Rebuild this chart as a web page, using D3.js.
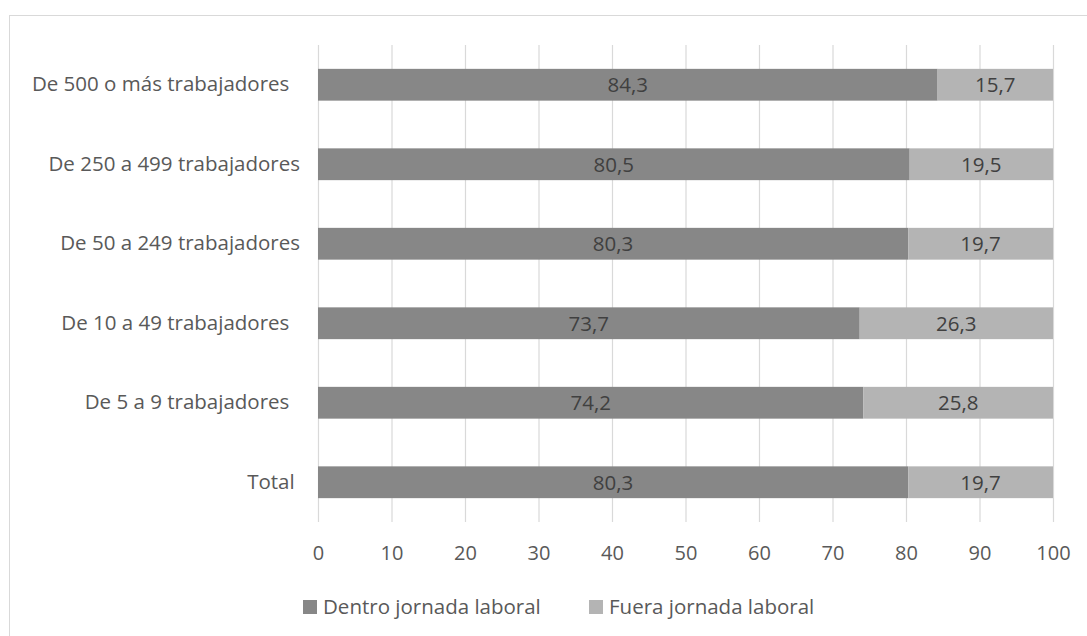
<!DOCTYPE html>
<html><head><meta charset="utf-8">
<script src="https://cdn.jsdelivr.net/npm/d3@7"></script>
<style>
body{margin:0;background:#fff;}
text{font-family:"Open Sans","Noto Sans",sans-serif;white-space:pre;}
</style></head>
<body><svg id="c" width="1087" height="636"></svg>
<script>
const categories = ["De 500 o más trabajadores  ","De 250 a 499 trabajadores","De 50 a 249 trabajadores","De 10 a 49 trabajadores  ","De 5 a 9 trabajadores  ","Total "];
const dentro = [84.3,80.5,80.3,73.7,74.2,80.3];
const fuera = [15.7,19.5,19.7,26.3,25.8,19.7];
const seriesNames = ["Dentro jornada laboral","Fuera jornada laboral"];
const xTicks = [0,10,20,30,40,50,60,70,80,90,100];

const svg = d3.select("#c");
const colors = ["#878787","#b4b4b4"];
const fmt = v => String(v).replace(".", ",");
const FS = 20.5;

svg.append("rect").attr("x",9.5).attr("y",15.5).attr("width",1100).attr("height",700)
  .attr("fill","#fff").attr("stroke","#d9d9d9");

const x = d3.scaleLinear().domain([0,100]).range([318,1053]);
const y = d3.scaleBand().domain(categories).range([45,522]).paddingInner(0.6).paddingOuter(0.3);

// gridlines
svg.append("g").selectAll("line").data(xTicks).join("line")
  .attr("x1",d=>x(d)+0.5).attr("x2",d=>x(d)+0.5).attr("y1",45).attr("y2",522)
  .attr("stroke","#d9d9d9").attr("stroke-width",1.2);

// axis labels
const xAxis = d3.axisBottom(x).tickValues(xTicks).tickSize(0).tickPadding(0);
const gx = svg.append("g").attr("transform","translate(0,560)").call(xAxis);
gx.select(".domain").remove();
gx.selectAll("text").attr("font-size",20).attr("fill","#595959").attr("dy",0)
  .style("font-family","'Open Sans','Noto Sans',sans-serif");

const yAxis = d3.axisLeft(y).tickSize(0).tickPadding(0);
const gy = svg.append("g").attr("transform","translate(300,0)").call(yAxis);
gy.select(".domain").remove();
gy.selectAll("text").attr("font-size",FS).attr("fill","#595959")
  .style("font-family","'Open Sans','Noto Sans',sans-serif");

const rows = categories.map((c,i)=>({c, d:dentro[i], f:fuera[i]}));
const g = svg.append("g");
g.selectAll("rect.d").data(rows).join("rect").attr("class","d")
  .attr("x",x(0)).attr("y",d=>y(d.c)).attr("height",y.bandwidth())
  .attr("width",d=>x(d.d)-x(0)).attr("fill",colors[0]);
g.selectAll("rect.f").data(rows).join("rect").attr("class","f")
  .attr("x",d=>x(d.d)).attr("y",d=>y(d.c)).attr("height",y.bandwidth())
  .attr("width",d=>x(d.d+d.f)-x(d.d)).attr("fill",colors[1]);
g.selectAll("text.ld").data(rows).join("text").attr("class","ld")
  .attr("x",d=>x(d.d/2)).attr("y",d=>y(d.c)+y.bandwidth()/2).attr("dy","0.36em")
  .attr("text-anchor","middle").attr("font-size",FS).attr("fill","#404040").text(d=>fmt(d.d));
g.selectAll("text.lf").data(rows).join("text").attr("class","lf")
  .attr("x",d=>x(d.d+d.f/2)).attr("y",d=>y(d.c)+y.bandwidth()/2).attr("dy","0.36em")
  .attr("text-anchor","middle").attr("font-size",FS).attr("fill","#404040").text(d=>fmt(d.f));

// legend
const legX = [303,589];
const lg = svg.append("g").selectAll("g").data(seriesNames).join("g")
  .attr("transform",(d,i)=>`translate(${legX[i]},600)`);
lg.append("rect").attr("width",14).attr("height",14).attr("fill",(d,i)=>colors[i]);
lg.append("text").attr("x",20).attr("y",7).attr("dy","0.36em").attr("font-size",FS)
  .attr("fill","#595959").text(d=>d);
</script></body></html>
